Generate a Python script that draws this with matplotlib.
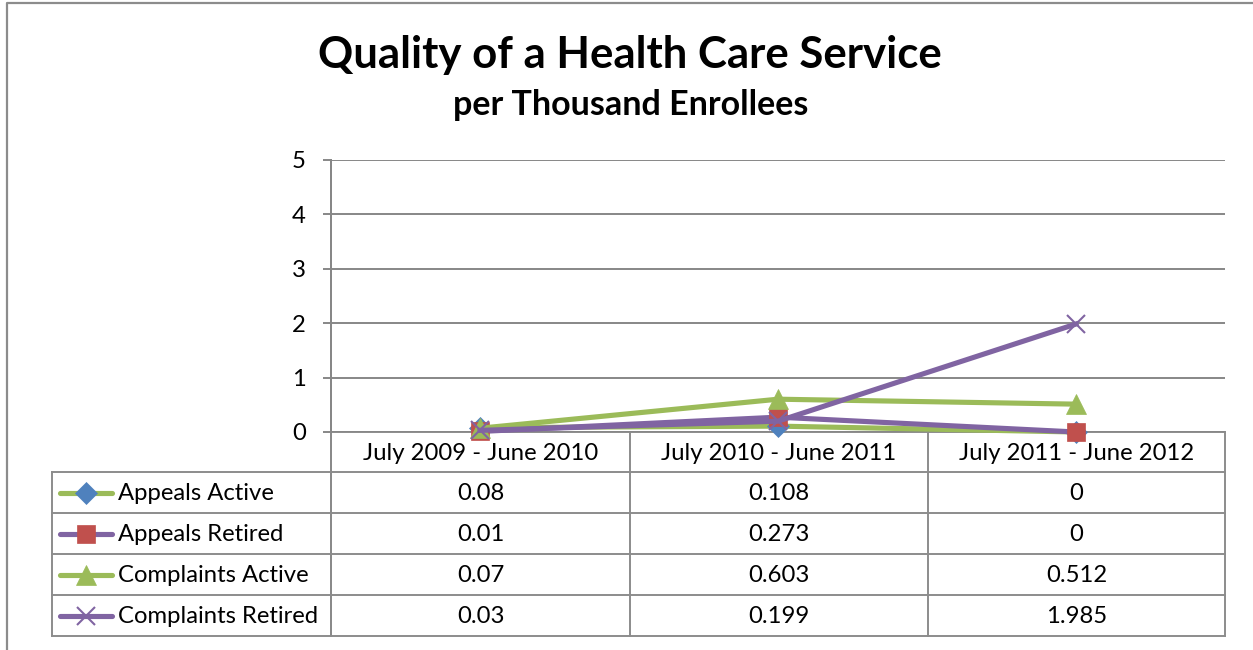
import matplotlib
matplotlib.use("Agg")
import matplotlib.pyplot as plt
from matplotlib.lines import Line2D

plt.rcParams['font.family'] = ['Lato', 'DejaVu Sans']

periods = ['July 2009 - June 2010', 'July 2010 - June 2011', 'July 2011 - June 2012']
series_names = ['Appeals Active', 'Appeals Retired', 'Complaints Active', 'Complaints Retired']
appeals_active = [0.08, 0.108, 0]
appeals_retired = [0.01, 0.273, 0]
complaints_active = [0.07, 0.603, 0.512]
complaints_retired = [0.03, 0.199, 1.985]
y_ticks = [0, 1, 2, 3, 4, 5]

GREEN = '#9BBB59'
PURPLE = '#8064A2'
BLUE = '#4F81BD'
RED = '#C0504D'
GRID = '#878787'
FS = 17.2

# line colour, marker, marker face, marker edge, marker size
styles = [
    (GREEN, 'D', BLUE, BLUE, 11),
    (PURPLE, 's', RED, RED, 13.5),
    (GREEN, '^', GREEN, GREEN, 14),
    (PURPLE, 'x', PURPLE, PURPLE, 13.5),
]
values = [appeals_active, appeals_retired, complaints_active, complaints_retired]

W, H = 1253, 650
fig = plt.figure(figsize=(W / 100, H / 100), dpi=100)

# pixel overlay for frame, titles and data table
bg = fig.add_axes([0, 0, 1, 1])
bg.set_xlim(0, W)
bg.set_ylim(H, 0)
bg.axis('off')

# chart frame (cut off at right and bottom)
bg.plot([7, 7, W + 5], [H + 5, 3, 3], color='#8c8c8c', lw=1.6)

bg.text(630, 55, 'Quality of a Health Care Service', ha='center', va='center',
        fontsize=31.5, fontweight='bold')
bg.text(631, 105, 'per Thousand Enrollees', ha='center', va='center',
        fontsize=24.5, fontweight='bold')

# plot area
x0, x1, ytop, ybot = 331, 1225, 160, 432
ax = fig.add_axes([x0 / W, 1 - ybot / H, (x1 - x0) / W, (ybot - ytop) / H])
ax.patch.set_alpha(0)
ax.set_xlim(-0.5, len(periods) - 0.5)
ax.set_ylim(0, 5)
ax.set_yticks(y_ticks)
ax.set_yticklabels([str(t) for t in y_ticks], fontsize=FS)
ax.set_xticks([])
ax.tick_params(axis='y', length=6, width=1.4, color=GRID, pad=12)
for side in ['top', 'right', 'bottom']:
    ax.spines[side].set_visible(False)
ax.spines['left'].set_color(GRID)
ax.spines['left'].set_linewidth(1.4)
ax.grid(axis='y', color=GRID, lw=1.4)
ax.set_axisbelow(True)

xs = list(range(len(periods)))
for vals, (lc, mk, mf, me, ms) in zip(values, styles):
    ax.plot(xs, vals, color=lc, lw=3.7, marker=mk, markerfacecolor=mf,
            markeredgecolor=me, markersize=ms, markeredgewidth=1.5 if mk == 'x' else 0.5,
            clip_on=False, zorder=3)

# data table
col_x = [52, 331, 630, 928, 1225]
row_y = [432, 472, 513, 554, 595, 636]
tc = '#8c8c8c'
bg.plot([x0, x0], [ytop, row_y[-1]], color=GRID, lw=1.4)
for cx in col_x[2:]:
    bg.plot([cx, cx], [row_y[0], row_y[-1]], color=tc, lw=1.4)
bg.plot([col_x[0], col_x[0]], [row_y[1], row_y[-1]], color=tc, lw=1.4)
bg.plot([x0, x1], [row_y[0], row_y[0]], color=tc, lw=1.4)
for ry in row_y[1:]:
    bg.plot([col_x[0], x1], [ry, ry], color=tc, lw=1.4)

for i, p in enumerate(periods):
    cx = (col_x[i + 1] + col_x[i + 2]) / 2
    bg.text(cx, (row_y[0] + row_y[1]) / 2 + 1, p, ha='center', va='center', fontsize=FS)

for r, (name, vals, (lc, mk, mf, me, ms)) in enumerate(zip(series_names, values, styles)):
    cy = (row_y[r + 1] + row_y[r + 2]) / 2
    bg.add_line(Line2D([60, 112], [cy, cy], color=lc, lw=3.7, solid_capstyle='round'))
    bg.plot([86], [cy], marker=mk, markerfacecolor=mf, markeredgecolor=me,
            markersize=ms, markeredgewidth=1.5 if mk == 'x' else 0.5)
    bg.text(118, cy + 1, name, ha='left', va='center', fontsize=FS)
    for i, v in enumerate(vals):
        cx = (col_x[i + 1] + col_x[i + 2]) / 2
        bg.text(cx, cy + 1, f'{v:g}', ha='center', va='center', fontsize=FS)

fig.savefig('out.png', dpi=100)
